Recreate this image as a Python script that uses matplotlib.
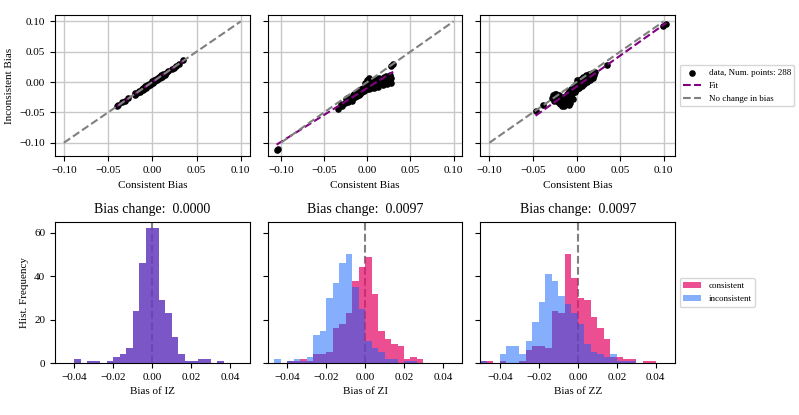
import numpy as np
import matplotlib
matplotlib.use('Agg')
from matplotlib import pyplot as plt

plt.rcParams['font.family'] = ['Liberation Serif', 'DejaVu Serif']

# Общие данные
qubits = ['IZ', 'ZI', 'ZZ']
bias_change = [0.0000, 0.0097, 0.0097]
num_points = 288
fit_slope = [1.0, 0.89, 1.02]
fit_intercept = [0.0, -0.0097, -0.0075]

# Точки рассеяния (согласованный / несогласованный сдвиг)
iz_cons = [-0.040, -0.039, -0.034, -0.031, -0.028, -0.020, -0.019, -0.017, -0.015, -0.014,
           -0.012, -0.011, -0.010, -0.009, -0.008, -0.007, -0.006, -0.005, -0.004, -0.003,
           -0.002, -0.001, 0.000, 0.001, 0.002, 0.003, 0.004, 0.005, 0.006, 0.007,
           0.008, 0.009, 0.010, 0.011, 0.012, 0.014, 0.016, 0.018, 0.022, 0.025,
           0.027, 0.030, 0.035]
iz_incons = [-0.040, -0.038, -0.033, -0.031, -0.027, -0.021, -0.018, -0.018, -0.014, -0.016,
             -0.011, -0.013, -0.009, -0.011, -0.007, -0.009, -0.005, -0.007, -0.003, -0.005,
             -0.001, -0.003, 0.001, -0.001, 0.003, 0.001, 0.005, 0.003, 0.007, 0.005,
             0.009, 0.007, 0.011, 0.009, 0.013, 0.012, 0.015, 0.019, 0.021, 0.024,
             0.027, 0.029, 0.036]

zi_cons = [-0.105, -0.103, -0.034, -0.029, -0.026, -0.024, -0.023, -0.022, -0.020, -0.019,
           -0.018, -0.017, -0.016, -0.015, -0.014, -0.013, -0.012, -0.011, -0.010, -0.009,
           -0.008, -0.007, -0.006, -0.005, -0.004, -0.003, -0.002, -0.001, 0.000, 0.000,
           0.001, 0.002, 0.002, 0.003, 0.004, 0.005, 0.006, 0.007, 0.008, 0.009,
           0.010, 0.011, 0.012, 0.013, 0.014, 0.015, 0.016, 0.018, 0.019, 0.020,
           0.022, 0.023, 0.025, 0.026, 0.027, 0.028, 0.028, 0.030,
           -0.030, -0.025, -0.021, -0.019, -0.017, -0.013, -0.011, -0.009, -0.007, -0.005,
           -0.003, -0.001, 0.001, 0.003, 0.005, 0.007, 0.009, 0.011, 0.013, 0.015,
           0.017, 0.021, 0.024, 0.026, 0.001, -0.002]
zi_incons = [-0.112, -0.110, -0.045, -0.039, -0.034, -0.030, -0.027, -0.033, -0.028, -0.024,
             -0.031, -0.022, -0.027, -0.020, -0.025, -0.018, -0.023, -0.016, -0.021, -0.014,
             -0.019, -0.012, -0.017, -0.010, -0.015, -0.008, -0.013, -0.005, -0.011, 0.003,
             -0.007, 0.006, -0.012, -0.003, -0.009, 0.001, -0.006, 0.004, -0.010, -0.002,
             0.005, -0.006, 0.002, -0.008, 0.007, -0.003, 0.003, -0.005, 0.008, 0.000,
             0.010, -0.004, 0.002, 0.012, -0.002, 0.006, 0.026, 0.029,
             -0.036, -0.028, -0.025, -0.029, -0.026, -0.022, -0.019, -0.017, -0.015, -0.013,
             -0.011, -0.009, -0.004, -0.006, -0.004, -0.002, 0.002, 0.000, 0.003, 0.001,
             0.005, 0.004, 0.007, 0.004, 0.000, -0.002]

zz_cons = [-0.047, -0.038, -0.028, -0.027, -0.026, -0.025, -0.024, -0.023, -0.022, -0.021,
           -0.020, -0.019, -0.018, -0.017, -0.016, -0.015, -0.014, -0.013, -0.012, -0.011,
           -0.010, -0.009, -0.009, -0.008, -0.007, -0.006, -0.005, -0.004, -0.003, -0.002,
           -0.001, 0.000, 0.000, 0.001, 0.002, 0.003, 0.004, 0.005, 0.006, 0.007,
           0.008, 0.009, 0.010, 0.011, 0.012, 0.013, 0.014, 0.015, 0.016, 0.018,
           0.019, 0.020, 0.021, 0.035, 0.099, 0.103,
           -0.025, -0.020, -0.018, -0.016, -0.014, -0.012, -0.010, -0.008, -0.006, -0.004,
           -0.002, 0.001, 0.003, 0.005, 0.007, 0.009, 0.011, 0.013, 0.017, 0.015]
zz_incons = [-0.048, -0.037, -0.027, -0.022, -0.031, -0.025, -0.029, -0.020, -0.027, -0.033,
             -0.022, -0.036, -0.028, -0.039, -0.024, -0.034, -0.040, -0.029, -0.036, -0.020,
             -0.032, -0.038, -0.015, -0.025, -0.034, -0.012, -0.020, -0.028, -0.009, -0.016,
             -0.004, -0.012, 0.003, -0.006, 0.002, -0.010, -0.002, 0.005, -0.006, 0.001,
             0.008, -0.003, 0.004, 0.011, 0.000, 0.007, 0.013, 0.004, 0.009, 0.015,
             0.006, 0.011, 0.017, 0.028, 0.092, 0.095,
             -0.019, -0.030, -0.033, -0.030, -0.026, -0.030, -0.024, -0.030, -0.022, -0.017,
             -0.008, -0.001, 0.004, -0.001, 0.006, 0.003, 0.006, 0.010, 0.012, 0.010]

cons_points = [iz_cons, zi_cons, zz_cons]
incons_points = [iz_incons, zi_incons, zz_incons]

# Гистограммы: 30 бинов от -0.05 до 0.05
bin_edges = np.linspace(-0.05, 0.05, 31)
iz_hist_cons = [0, 0, 0, 2, 0, 1, 1, 0, 1, 3, 4, 7, 24, 46, 62,
                62, 29, 23, 12, 4, 1, 1, 2, 2, 0, 1, 0, 0, 0, 0]
iz_hist_incons = iz_hist_cons
zi_hist_cons = [0, 0, 0, 1, 1, 2, 1, 4, 4, 5, 16, 18, 23, 38, 44,
                49, 32, 15, 11, 9, 8, 2, 3, 2, 0, 0, 0, 0, 0, 0]
zi_hist_incons = [0, 2, 0, 1, 2, 1, 3, 13, 15, 30, 37, 46, 50, 35, 25,
                  10, 7, 5, 2, 2, 0, 1, 1, 0, 0, 0, 0, 0, 0, 0]
zz_hist_cons = [1, 1, 0, 1, 0, 0, 1, 6, 8, 8, 7, 24, 23, 50, 39,
                30, 29, 21, 16, 11, 3, 3, 2, 2, 0, 1, 1, 0, 0, 0]
zz_hist_incons = [1, 0, 0, 4, 8, 8, 4, 10, 19, 28, 41, 38, 31, 27, 23,
                  18, 9, 5, 4, 3, 4, 1, 1, 1, 0, 0, 0, 0, 0, 0]

hist_cons = [iz_hist_cons, zi_hist_cons, zz_hist_cons]
hist_incons = [iz_hist_incons, zi_hist_incons, zz_hist_incons]

fig, axes = plt.subplots(2, 3, figsize=(7.99, 4.15), dpi=100, sharey='row')
plt.subplots_adjust(left=0.0688, right=0.845, top=0.964, bottom=0.125,
                    wspace=0.093, hspace=0.46)

for i in range(3):
    ax = axes[0, i]
    x = np.array(cons_points[i])
    y = np.array(incons_points[i])
    ax.scatter(x, y, s=14, color='black', label=f'data, Num. points: {num_points}')
    fx = np.array([x.min(), x.max()])
    ax.plot(fx, fit_slope[i] * fx + fit_intercept[i], '--', color='purple', lw=1.5, label='Fit')
    ax.plot([-0.1, 0.1], [-0.1, 0.1], '--', color='grey', lw=1.5, label='No change in bias')
    ax.set_xticks([-0.10, -0.05, 0.00, 0.05, 0.10])
    ax.set_yticks([-0.10, -0.05, 0.00, 0.05, 0.10])
    ax.grid(True, color='#c8c8c8', lw=1)
    ax.set_axisbelow(True)
    ax.set_xlabel('Consistent Bias', fontsize=8)
    ax.tick_params(labelsize=8)
axes[0, 0].set_ylabel('Inconsistent Bias', fontsize=8)
axes[0, 2].legend(loc='center left', bbox_to_anchor=(1.0, 0.5), fontsize=6.5)

for i in range(3):
    ax = axes[1, i]
    ax.axvline(0, color='grey', linestyle='--', lw=1.5, zorder=0)
    ax.stairs(hist_cons[i], bin_edges, fill=True, color='#e6136e', alpha=0.75, label='consistent')
    ax.stairs(hist_incons[i], bin_edges, fill=True, color='#0c5efc', alpha=0.5, label='inconsistent')
    ax.set_xlim(-0.05, 0.05)
    ax.set_ylim(0, 65.1)
    ax.set_xticks([-0.04, -0.02, 0.00, 0.02, 0.04])
    ax.set_yticks([0, 20, 40, 60])
    ax.set_title(f'Bias change:  {bias_change[i]:.4f}', fontsize=10)
    ax.set_xlabel(f'Bias of {qubits[i]}', fontsize=8)
    ax.tick_params(labelsize=8)
axes[1, 0].set_ylabel('Hist. Frequency', fontsize=8)
axes[1, 2].legend(loc='center left', bbox_to_anchor=(1.0, 0.5), fontsize=6.5)

plt.savefig('out.png', dpi=100)
